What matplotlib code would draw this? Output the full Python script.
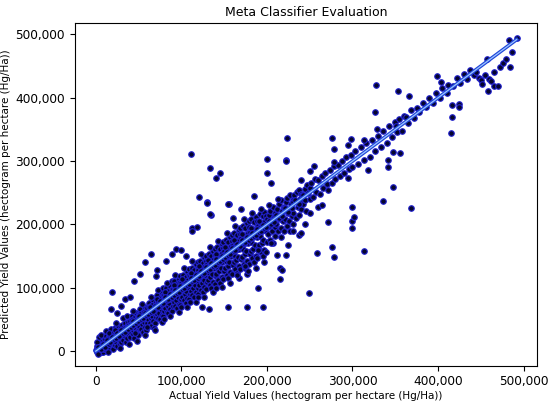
import numpy as np
import matplotlib
matplotlib.use("Agg")
import matplotlib.pyplot as plt
from matplotlib.ticker import FuncFormatter

# (actual, predicted) pairs in thousands of Hg/Ha
band_k = [
    (0, 2), (1, 5), (1, -2), (2, 8), (2, 0), (3, 4), (3, 12), (4, -3), (4, 6), (5, 2), (5, 15), (5, 9),
    (6, 0), (6, 11), (7, 5), (7, -1), (7, 18), (8, 8), (8, 3), (9, 12), (9, 6), (9, -2), (10, 14), (2, 14),
    (4, 22), (6, 25), (3, -5),
    (10, 4), (11, 10), (11, 19), (12, 7), (12, 24), (13, 15), (13, 2), (14, 11), (14, 20), (15, 8), (15, 27),
    (16, 16), (16, 5), (17, 22), (17, 12), (18, 9), (18, 30), (19, 18), (19, 25), (20, 13), (20, 3), (12, 32),
    (18, 35), (16, 28), (14, -1),
    (20, 22), (21, 16), (21, 30), (22, 10), (22, 27), (23, 20), (23, 36), (24, 14), (24, 25), (25, 31), (25, 8),
    (26, 22), (26, 40), (27, 18), (27, 29), (28, 12), (28, 34), (29, 24), (29, 20), (30, 38), (30, 15), (24, 44),
    (28, 5), (22, 33), (26, 27),
    (30, 28), (31, 22), (31, 42), (32, 33), (32, 18), (33, 38), (33, 27), (34, 45), (34, 24), (35, 32), (35, 14),
    (36, 40), (36, 29), (37, 35), (37, 20), (38, 46), (38, 31), (39, 26), (39, 41), (40, 36), (40, 22), (32, 52),
    (36, 55), (39, 12), (34, 36),
    (40, 48), (41, 30), (41, 43), (42, 38), (42, 56), (43, 27), (43, 46), (44, 40), (44, 33), (45, 52), (45, 20),
    (46, 44), (46, 37), (47, 60), (47, 30), (48, 50), (48, 41), (49, 25), (49, 55), (50, 45), (50, 36), (44, 64),
    (48, 16), (42, 49), (46, 28),
    (50, 58), (51, 40), (51, 52), (52, 47), (52, 66), (53, 35), (53, 56), (54, 50), (54, 43), (55, 62), (55, 30),
    (56, 54), (56, 46), (57, 70), (57, 38), (58, 60), (58, 51), (59, 34), (59, 65), (60, 55), (60, 44), (54, 75),
    (58, 26), (52, 59), (56, 62),
    (60, 68), (61, 50), (61, 62), (62, 57), (62, 76), (63, 45), (63, 66), (64, 60), (64, 53), (65, 72), (65, 40),
    (66, 64), (66, 56), (67, 80), (67, 48), (68, 70), (68, 61), (69, 44), (69, 75), (70, 65), (70, 54), (64, 85),
    (68, 36), (62, 69), (66, 73),
    (70, 78), (71, 58), (71, 74), (72, 66), (72, 88), (73, 52), (73, 77), (74, 70), (74, 61), (75, 84), (75, 50),
    (76, 74), (76, 67), (77, 92), (77, 57), (78, 81), (78, 72), (79, 55), (79, 88), (80, 76), (80, 63), (73, 96),
    (77, 46), (71, 82), (79, 99),
    (80, 88), (81, 68), (81, 85), (82, 77), (82, 99), (83, 62), (83, 88), (84, 80), (84, 71), (85, 95), (85, 60),
    (86, 84), (86, 76), (87, 103), (87, 66), (88, 92), (88, 82), (89, 64), (89, 98), (90, 86), (90, 72),
    (83, 108), (87, 55), (81, 93), (89, 110),
    (90, 98), (91, 77), (91, 95), (92, 87), (92, 110), (93, 71), (93, 99), (94, 90), (94, 80), (95, 106),
    (95, 68), (96, 94), (96, 86), (97, 114), (97, 75), (98, 103), (98, 92), (99, 73), (99, 109), (100, 96),
    (100, 82), (93, 120), (97, 62), (91, 104), (99, 118),
    (100, 108), (101, 86), (101, 104), (102, 97), (102, 121), (103, 80), (103, 110), (104, 100), (104, 90),
    (105, 117), (105, 76), (106, 104), (106, 95), (107, 126), (107, 84), (108, 113), (108, 101), (109, 82),
    (109, 120), (110, 106), (110, 91), (103, 131), (107, 70), (101, 114), (109, 129),
    (110, 118), (111, 95), (111, 114), (112, 106), (112, 132), (113, 89), (113, 120), (114, 110), (114, 99),
    (115, 128), (115, 85), (116, 114), (116, 104), (117, 137), (117, 93), (118, 124), (118, 111), (119, 90),
    (119, 131), (120, 116), (120, 100), (113, 142), (117, 78), (111, 124), (119, 140),
    (120, 128), (121, 104), (121, 124), (122, 115), (122, 143), (123, 97), (123, 131), (124, 120), (124, 108),
    (125, 139), (125, 93), (126, 124), (126, 113), (127, 148), (127, 101), (128, 135), (128, 121), (129, 98),
    (129, 142), (130, 126), (130, 109), (123, 153), (127, 86), (121, 134), (129, 151),
    (130, 138), (131, 113), (131, 134), (132, 124), (132, 154), (133, 105), (133, 141), (134, 130), (134, 117),
    (135, 150), (135, 100), (136, 134), (136, 122), (137, 158), (137, 109), (138, 145), (138, 131), (139, 106),
    (139, 152), (140, 136), (140, 118), (133, 164), (137, 94), (131, 144), (139, 162),
    (140, 148), (141, 122), (141, 144), (142, 133), (142, 165), (143, 113), (143, 151), (144, 140), (144, 126),
    (145, 161), (145, 108), (146, 144), (146, 131), (147, 169), (147, 117), (148, 155), (148, 141), (149, 114),
    (149, 163), (150, 146), (150, 127), (143, 174), (147, 101), (141, 154), (149, 172),
    (150, 158), (151, 131), (151, 154), (152, 143), (152, 176), (153, 121), (153, 162), (154, 150), (154, 135),
    (155, 172), (155, 116), (156, 154), (156, 140), (157, 180), (157, 125), (158, 166), (158, 151), (159, 122),
    (159, 174), (160, 156), (160, 136), (153, 186), (157, 108), (151, 164), (159, 183),
    (160, 168), (161, 140), (161, 164), (162, 152), (162, 187), (163, 130), (163, 172), (164, 160), (164, 144),
    (165, 183), (165, 124), (166, 164), (166, 149), (167, 191), (167, 134), (168, 176), (168, 161), (169, 130),
    (169, 185), (170, 166), (170, 145), (163, 197), (167, 115), (161, 175), (169, 194),
    (170, 178), (171, 149), (171, 174), (172, 162), (172, 198), (173, 138), (173, 183), (174, 170), (174, 153),
    (175, 194), (175, 132), (176, 174), (176, 158), (177, 202), (177, 142), (178, 186), (178, 171), (179, 138),
    (179, 196), (180, 176), (180, 154), (173, 208), (177, 122), (171, 185), (179, 205),
    (180, 188), (181, 158), (181, 184), (182, 172), (182, 208), (183, 147), (183, 193), (184, 180), (184, 162),
    (185, 204), (185, 141), (186, 184), (186, 167), (187, 212), (187, 151), (188, 196), (188, 181), (189, 147),
    (189, 206), (190, 186), (190, 163), (183, 218), (187, 132), (181, 195),
    (190, 198), (191, 167), (191, 194), (192, 182), (192, 216), (193, 156), (193, 203), (194, 190), (194, 171),
    (195, 213), (195, 150), (196, 194), (196, 176), (197, 220), (197, 160), (198, 206), (198, 191), (199, 156),
    (199, 214), (200, 196), (200, 172), (193, 225), (197, 140), (191, 205),
    (200, 208), (201, 185), (202, 215), (203, 198), (204, 176), (204, 222), (205, 205), (206, 190), (207, 228),
    (207, 170), (208, 212), (209, 196), (210, 218), (210, 182), (203, 230),
    (210, 214), (211, 200), (212, 225), (213, 190), (214, 232), (215, 208), (216, 195), (217, 238), (217, 180),
    (218, 222), (219, 205), (220, 228), (220, 190), (213, 240), (216, 215),
    (220, 226), (221, 208), (222, 236), (223, 198), (224, 242), (225, 218), (226, 205), (227, 246), (227, 190),
    (228, 232), (229, 214), (230, 238), (230, 200),
    (230, 236), (231, 218), (232, 246), (234, 210), (235, 252), (236, 228), (237, 215), (238, 255), (239, 240),
    (240, 224), (240, 248),
    (241, 246), (242, 232), (244, 256), (245, 238), (246, 222), (247, 262), (248, 250), (250, 240), (250, 258),
    (252, 266), (254, 244), (256, 272), (258, 252), (260, 270), (262, 248), (264, 276), (266, 258), (268, 282),
    (270, 264), (272, 254), (274, 286), (276, 266), (278, 292), (280, 272), (283, 294), (285, 276), (288, 300),
    (290, 282), (293, 306), (296, 288), (298, 310), (300, 290),
    (303, 316), (306, 296), (310, 322), (313, 302), (316, 328), (320, 306), (323, 334), (326, 316), (330, 340),
    (333, 322), (336, 348), (340, 328), (343, 356), (346, 338), (350, 362), (352, 346), (355, 366), (358, 348),
    (360, 372), (365, 360), (368, 380), (372, 368), (375, 384), (378, 378), (382, 392), (386, 386), (390, 400),
    (394, 392), (398, 408), (402, 400),
    (405, 416), (410, 408), (412, 420), (418, 418), (422, 432), (426, 424), (430, 438), (434, 430), (438, 444),
    (442, 436), (445, 440), (448, 432), (450, 428), (452, 422), (455, 436), (457, 462), (458, 410), (460, 430),
    (462, 426), (465, 440), (466, 418), (470, 419), (472, 448), (476, 455), (480, 462), (483, 491), (484, 448),
    (486, 472), (492, 494),
]

# tightly packed points hugging the diagonal (the solid navy core)
core_k = [
    (3, 7), (6, 4), (8, 12), (11, 7), (13, 18), (15, 12), (17, 15), (19, 22), (21, 19), (24, 20), (25, 28),
    (27, 24), (30, 33), (32, 28), (34, 31), (36, 36), (38, 35), (41, 38), (43, 41), (44, 48), (47, 45),
    (49, 47), (51, 56), (53, 50), (55, 52), (57, 60), (59, 57), (61, 58), (63, 69), (65, 62), (67, 64),
    (69, 72), (71, 69), (73, 70), (75, 79), (77, 74), (79, 76), (81, 86), (83, 80), (85, 82), (87, 91),
    (89, 86), (91, 88), (93, 96), (95, 92), (97, 94), (99, 103), (101, 98), (103, 100), (105, 108),
    (107, 104), (109, 106), (111, 115), (113, 110), (115, 112), (117, 121), (119, 116), (121, 118),
    (123, 127), (125, 122), (127, 124), (129, 133), (131, 128), (133, 130), (135, 139), (137, 134),
    (139, 136), (141, 145), (143, 140), (145, 142), (147, 151), (149, 146), (151, 148), (153, 157),
    (155, 152), (157, 154), (159, 163), (161, 158), (163, 160), (165, 169), (167, 164), (169, 166),
    (171, 175), (173, 170), (175, 172), (177, 181), (179, 176), (181, 178), (183, 187), (185, 182),
    (187, 184), (189, 193), (191, 188), (193, 190), (195, 199), (197, 194), (199, 196), (202, 206),
    (205, 200), (208, 204), (211, 215), (214, 210), (218, 214), (221, 226), (225, 220), (229, 226),
    (233, 238), (237, 232), (242, 246),
]

outliers_k = [
    (223, 336), (222, 302), (276, 337), (278, 319), (298, 335), (295, 325), (313, 333), (327, 420), (326, 377),
    (353, 410), (366, 403), (399, 435), (404, 425), (111, 311), (134, 289), (140, 274), (145, 281), (200, 303),
    (222, 301), (200, 281), (205, 265), (121, 244), (130, 235), (156, 233), (135, 215), (130, 234), (155, 232),
    (134, 216), (64, 154), (112, 194), (19, 94), (18, 66), (34, 82), (40, 86), (52, 122), (71, 128), (82, 142),
    (89, 154), (94, 162), (255, 293), (279, 298), (329, 350), (351, 356), (363, 370), (112, 190), (118, 196),
    (58, 140), (45, 110), (30, 72), (25, 60), (70, 118), (100, 160), (105, 150), (160, 210), (170, 225),
    (185, 245), (240, 270), (250, 285),
    (178, 127), (190, 100), (195, 69), (177, 69), (155, 69), (132, 67), (124, 70), (249, 92), (215, 114),
    (215, 131), (218, 128), (222, 152), (225, 167), (212, 152), (237, 183), (240, 186), (250, 218), (260, 228),
    (264, 231), (271, 204), (259, 155), (276, 164), (279, 148), (314, 158), (299, 227), (299, 206), (299, 195),
    (302, 212), (336, 237), (368, 226), (348, 259), (342, 302), (342, 290), (318, 286), (295, 273), (356, 313),
    (348, 315), (415, 345), (416, 370), (416, 389), (424, 391), (425, 386), (69, 34), (80, 50), (120, 85),
    (140, 100), (165, 120), (175, 135), (190, 160), (205, 170), (230, 190), (245, 200), (60, 38), (100, 70),
    (110, 78),
]

pairs = band_k + core_k + outliers_k
actual = np.array([p[0] for p in pairs], dtype=float) * 1000
predicted = np.array([p[1] for p in pairs], dtype=float) * 1000

fig = plt.figure(figsize=(5.5, 4.05), dpi=100)
ax = fig.add_axes([0.136, 0.097, 0.840, 0.846])

ax.scatter(actual, predicted, s=16, facecolor="#05052e", edgecolor="#2222d0", linewidths=0.8, zorder=2)

lo, hi = actual.min(), actual.max()
ax.plot([lo, hi], [lo, hi], color="#1f45d8", lw=2.6, zorder=3)
ax.plot([lo, hi], [lo, hi], color="#9cc4ff", lw=0.9, zorder=4)

fmt = FuncFormatter(lambda v, _: f"{int(v):,}")
ax.xaxis.set_major_formatter(fmt)
ax.yaxis.set_major_formatter(fmt)
ax.set_xticks([0, 100000, 200000, 300000, 400000, 500000])
ax.set_yticks([0, 100000, 200000, 300000, 400000, 500000])
ax.set_xlim(-24500, 515500)
ax.set_ylim(-23000, 518000)
ax.tick_params(labelsize=8.7)

ax.set_xlabel("Actual Yield Values (hectogram per hectare (Hg/Ha))", fontsize=7.5, labelpad=2)
ax.set_ylabel("Predicted Yield Values (hectogram per hectare (Hg/Ha))", fontsize=7.5, labelpad=3)
ax.set_title("Meta Classifier Evaluation", fontsize=9, pad=5)

fig.savefig("out.png", dpi=100)
